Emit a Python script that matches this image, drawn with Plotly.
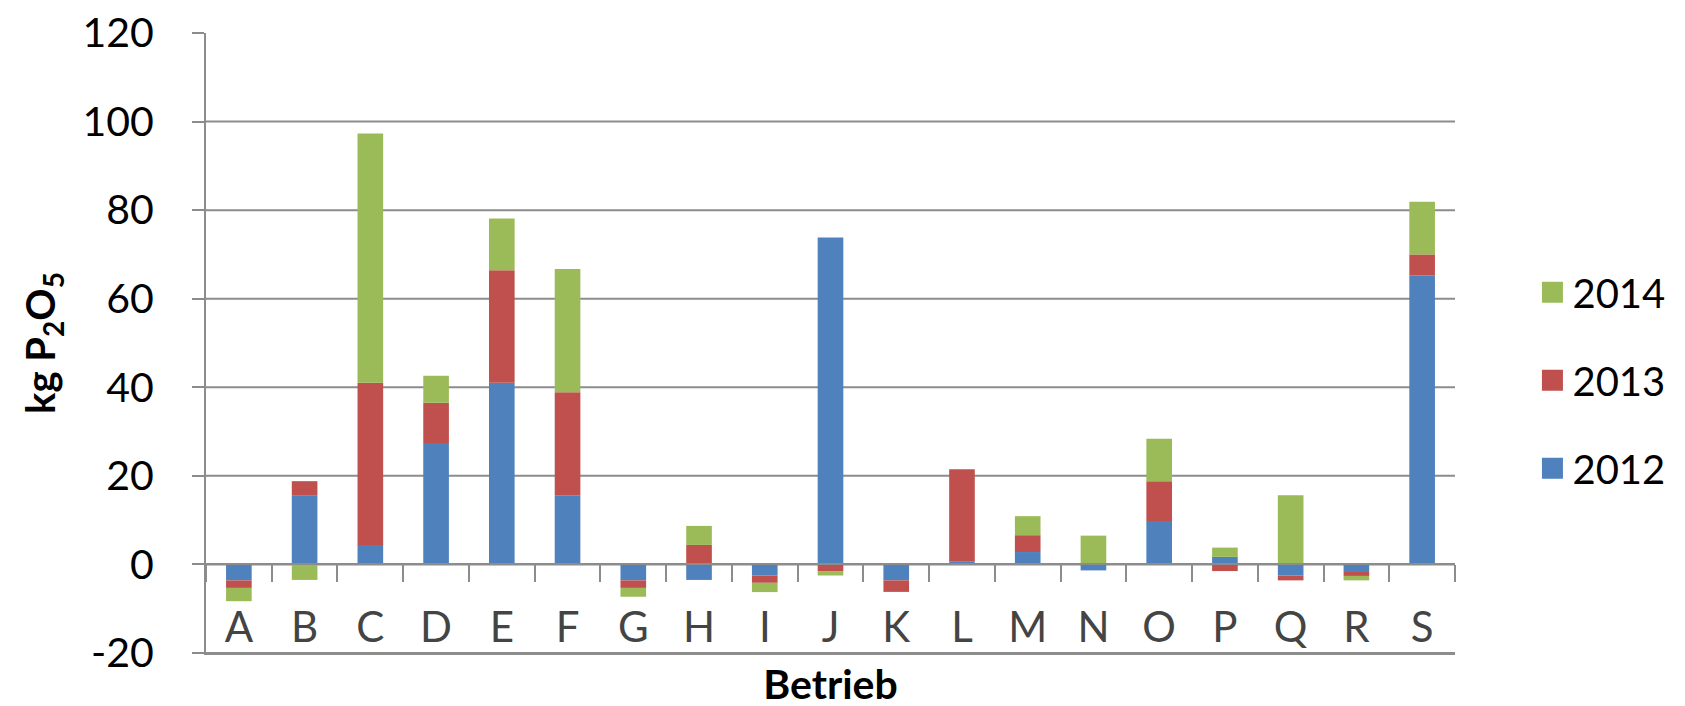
import plotly.graph_objects as go

categories = ["A", "B", "C", "D", "E", "F", "G", "H", "I", "J", "K", "L", "M", "N", "O", "P", "Q", "R", "S"]
v2012 = [-3.6, 15.6, 4.4, 27.4, 41.0, 15.6, -3.6, -3.5, -2.5, 73.8, -3.6, 0.6, 2.8, -1.35, 9.8, 1.7, -2.5, -1.5, 65.2]
v2013 = [-1.7, 3.2, 36.6, 9.1, 25.4, 23.3, -1.7, 4.4, -1.65, -1.5, -2.6, 20.9, 3.8, 0.0, 9.0, -1.5, -1.1, -1.1, 4.8]
v2014 = [-3.0, -3.5, 56.3, 6.1, 11.7, 27.8, -2.0, 4.3, -2.1, -1.0, 0.0, 0.0, 4.3, 6.5, 9.6, 2.1, 15.6, -1.0, 11.9]
series_names = ["2012", "2013", "2014"]
series_colors = ["#4F81BD", "#C0504D", "#9BBB59"]
legend_ranks = [3, 2, 1]
y_ticks = [-20, 0, 20, 40, 60, 80, 100, 120]
y_tick_labels = ["-20", "0", "20", "40", "60", "80", "100", "120"]
grid_values = [-20, 0, 20, 40, 60, 80, 100]

FONT = "Lato"
GRID = "#8C8C8C"
xpos = list(range(len(categories)))

fig = go.Figure()
for name, vals, col, rank in zip(series_names, [v2012, v2013, v2014], series_colors, legend_ranks):
    fig.add_trace(go.Bar(
        x=xpos, y=vals, name=name, marker=dict(color=col, line=dict(width=0)),
        legendgroup=name, showlegend=False,
    ))
    # legend entry with a larger square symbol
    fig.add_trace(go.Scatter(
        x=[None], y=[None], mode="markers", name=name, legendgroup=name, legendrank=rank,
        marker=dict(symbol="square", size=16, color=col, line=dict(color=col, width=5)),
        hoverinfo="skip",
    ))

# horizontal gridlines (no line at top of the axis range)
for g in grid_values:
    fig.add_shape(type="line", xref="paper", yref="y", x0=0, x1=1, y0=g, y1=g,
                  line=dict(color=GRID, width=2), layer="below")

plot_top, plot_bot = 25, 645
plot_left, plot_right = 198, 1447
W, H = 1685, 706
zero_frac = (0 - y_ticks[0]) / (y_ticks[-1] - y_ticks[0])

fig.update_layout(
    width=W, height=H,
    margin=dict(l=plot_left, r=W - plot_right, t=plot_top, b=H - plot_bot),
    paper_bgcolor="white", plot_bgcolor="white",
    barmode="relative", bargap=0.61,
    font=dict(family=FONT, size=40, color="#000000"),
    showlegend=True,
    legend=dict(x=1.062, y=0.44, xanchor="left", yanchor="middle",
                traceorder="grouped", tracegroupgap=33,
                font=dict(family=FONT, size=40), itemwidth=30),
    xaxis=dict(
        range=[-0.5, len(categories) - 0.5], automargin=False,
        tickmode="array", tickvals=xpos, ticktext=categories,
        ticklabelposition="inside", ticklabelstandoff=8, ticklabeloverflow="allow",
        ticks="", showgrid=False, zeroline=False,
        showline=True, linecolor=GRID, linewidth=2,
        tickfont=dict(family=FONT, size=42),
        title=dict(text="<b>Betrieb</b>", font=dict(family=FONT, size=41), standoff=20),
    ),
    xaxis2=dict(
        overlaying="x", anchor="free", side="bottom", automargin=False,
        position=zero_frac,
        range=[-0.5, len(categories) - 0.5],
        tickmode="linear", tick0=-0.5, dtick=1,
        ticks="outside", ticklen=17, tickwidth=2, tickcolor=GRID,
        showticklabels=False, showgrid=False, zeroline=False,
        showline=True, linecolor=GRID, linewidth=2,
    ),
    yaxis=dict(
        range=[y_ticks[0], y_ticks[-1]], tickmode="array", tickvals=y_ticks,
        ticktext=y_tick_labels, automargin=False,
        ticks="outside", ticklen=12, tickwidth=2, tickcolor=GRID,
        showgrid=False, zeroline=False, showline=True, linecolor=GRID, linewidth=2,
        ticklabelstandoff=30, ticklabeloverflow="allow",
        tickfont=dict(family=FONT, size=41),
        title=dict(text="<b>kg P<sub>2</sub>O<sub>5</sub></b>", font=dict(family=FONT, size=40), standoff=14),
    ),
)
# invisible trace to activate the zero-line category axis
fig.add_trace(go.Scatter(x=[None], y=[None], xaxis="x2", showlegend=False, hoverinfo="skip"))

fig.write_html("out.html")
